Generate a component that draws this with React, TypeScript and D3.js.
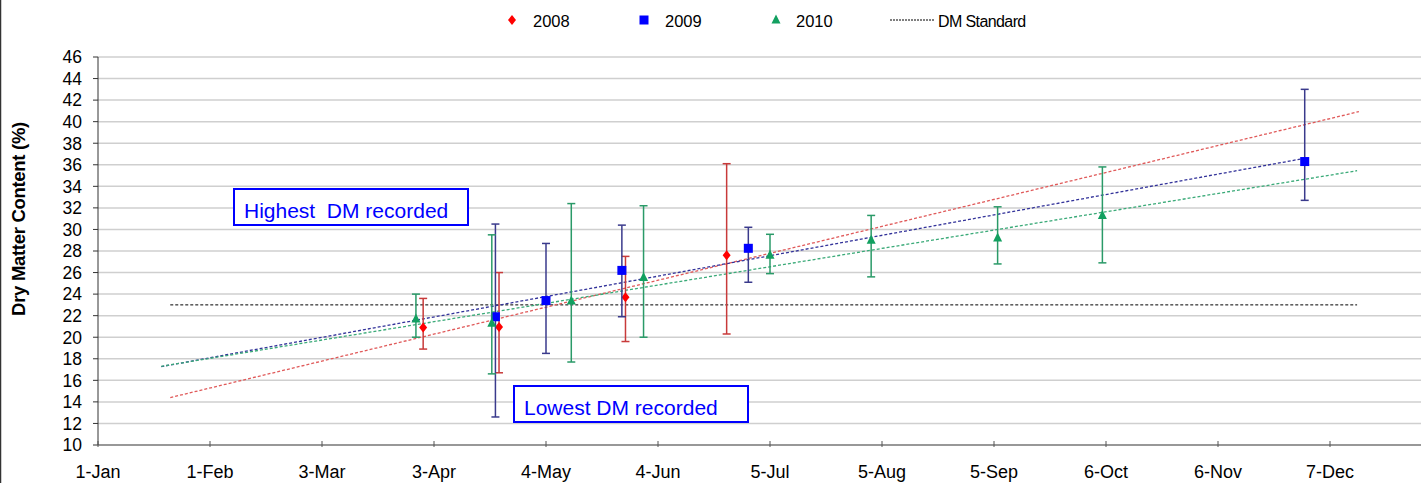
import React from "react";
import * as d3 from "d3";

// ---- data (day offsets from 1-Jan) ----
const tickLabels = ["1-Jan", "1-Feb", "3-Mar", "3-Apr", "4-May", "4-Jun", "5-Jul", "5-Aug", "5-Sep", "6-Oct", "6-Nov", "7-Dec"];
const yTicks = [10, 12, 14, 16, 18, 20, 22, 24, 26, 28, 30, 32, 34, 36, 38, 40, 42, 44, 46];

const days2008 = [90, 111, 146, 174];
const vals2008 = [20.9, 20.95, 23.7, 27.6];
const hi2008 = [23.6, 26.0, 27.5, 36.1];
const lo2008 = [18.9, 16.7, 19.6, 20.3];

const days2009 = [110, 124, 145, 180, 334];
const vals2009 = [21.9, 23.4, 26.2, 28.25, 36.3];
const hi2009 = [30.5, 28.7, 30.4, 30.2, 43.0];
const lo2009 = [12.6, 18.5, 21.9, 25.1, 32.7];

const days2010 = [88, 109, 131, 151, 186, 214, 249, 278];
const vals2010 = [21.7, 21.3, 23.35, 25.55, 27.6, 29.0, 29.2, 31.3];
const hi2010 = [24.0, 29.5, 32.4, 32.2, 29.55, 31.3, 32.1, 35.8];
const lo2010 = [20.0, 16.6, 17.7, 20.0, 25.9, 25.6, 26.8, 26.9];

// trendlines: [startDay, startValue, endDay, endValue]
const trend2008 = [20, 14.4, 349, 40.93];
const trend2009 = [17.5, 17.27, 334, 36.6];
const trend2010 = [17.5, 17.3, 348.5, 35.45];

const dmStandard = 23;
const dmStandardDays = [20, 348.5];

const W = 1421, H = 483;
const left = 98, top = 57, bottom = 445;
const x = d3.scaleLinear().domain([0, 372]).range([left, left + 372 * 112 / 31]);
const y = d3.scaleLinear().domain([10, 46]).range([bottom, top]);

const FONT = "Liberation Sans, Arial, sans-serif";

type Series = { name: string; days: number[]; vals: number[]; hi: number[]; lo: number[]; marker: string; fill: string; err: string; trend: number[]; trendColor: string };

const series: Series[] = [
  { name: "2008", days: days2008, vals: vals2008, hi: hi2008, lo: lo2008, marker: "diamond", fill: "#ff0000", err: "#c83a3a", trend: trend2008, trendColor: "#e05a5a" },
  { name: "2009", days: days2009, vals: vals2009, hi: hi2009, lo: lo2009, marker: "square", fill: "#0000ff", err: "#3a3a8c", trend: trend2009, trendColor: "#33339a" },
  { name: "2010", days: days2010, vals: vals2010, hi: hi2010, lo: lo2010, marker: "triangle", fill: "#12a060", err: "#2a9a68", trend: trend2010, trendColor: "#3aaa78" },
];

function Marker({ type, cx, cy, fill }: { type: string; cx: number; cy: number; fill: string }) {
  if (type === "diamond") {
    return <path d={`M${cx},${cy - 5}L${cx + 4},${cy}L${cx},${cy + 5}L${cx - 4},${cy}Z`} fill={fill} />;
  }
  if (type === "square") {
    return <rect x={cx - 4.5} y={cy - 4.5} width={9} height={9} fill={fill} />;
  }
  return <path d={`M${cx},${cy - 5.5}L${cx + 4.5},${cy + 3.5}L${cx - 4.5},${cy + 3.5}Z`} fill={fill} />;
}

export default function App() {
  return (
    <svg width={W} height={H} style={{ display: "block", position: "absolute", left: 0, top: 0, background: "#fff" }} fontFamily={FONT}>
      <rect x={0} y={0} width={W} height={H} fill="#fff" />
      <line x1={0.5} y1={0} x2={0.5} y2={H} stroke="#333" strokeWidth={1.5} />
      {/* gridlines */}
      {yTicks.filter((t) => t > 10).map((t) => (
        <line key={t} x1={left} x2={W} y1={y(t)} y2={y(t)} stroke="#cfcfcf" strokeWidth={1.5} />
      ))}
      {/* axes */}
      <line x1={left} x2={left} y1={top} y2={bottom} stroke="#333" strokeWidth={1} />
      <line x1={left} x2={W} y1={bottom} y2={bottom} stroke="#333" strokeWidth={1.2} />
      {yTicks.map((t) => (
        <g key={t}>
          <line x1={left - 5} x2={left} y1={y(t)} y2={y(t)} stroke="#333" />
          <text x={left - 16} y={y(t)} dy="0.36em" textAnchor="end" fontSize={17.5} fill="#000">{t}</text>
        </g>
      ))}
      {tickLabels.map((lab, i) => (
        <g key={lab}>
          <line x1={x(i * 31)} x2={x(i * 31)} y1={bottom - 4} y2={bottom + 2} stroke="#555" />
          <text x={x(i * 31)} y={478} textAnchor="middle" fontSize={18} fill="#000">{lab}</text>
        </g>
      ))}
      <text transform={`translate(25,${219}) rotate(-90)`} textAnchor="middle" fontSize={18.5} fontWeight="bold" fill="#000" letterSpacing={-0.3}>Dry Matter Content (%)</text>

      {/* DM standard */}
      <line x1={x(dmStandardDays[0])} x2={x(dmStandardDays[1])} y1={y(dmStandard)} y2={y(dmStandard)} stroke="#000" strokeWidth={1} strokeDasharray="3,2" />

      {/* trendlines */}
      {series.map((s) => (
        <line key={"t" + s.name} x1={x(s.trend[0])} y1={y(s.trend[1])} x2={x(s.trend[2])} y2={y(s.trend[3])} stroke={s.trendColor} strokeWidth={1.3} strokeDasharray="3,2" />
      ))}

      {/* error bars and markers */}
      {series.map((s) => (
        <g key={"s" + s.name}>
          {s.days.map((d, i) => (
            <g key={i}>
              <line x1={x(d)} x2={x(d)} y1={y(s.hi[i])} y2={y(s.lo[i])} stroke={s.err} strokeWidth={1.5} />
              <line x1={x(d) - 4} x2={x(d) + 4} y1={y(s.hi[i])} y2={y(s.hi[i])} stroke={s.err} strokeWidth={1.5} />
              <line x1={x(d) - 4} x2={x(d) + 4} y1={y(s.lo[i])} y2={y(s.lo[i])} stroke={s.err} strokeWidth={1.5} />
            </g>
          ))}
          {s.days.map((d, i) => (
            <Marker key={"m" + i} type={s.marker} cx={x(d)} cy={y(s.vals[i])} fill={s.fill} />
          ))}
        </g>
      ))}

      {/* text boxes */}
      <rect x={234} y={189} width={234} height={36} fill="#fff" stroke="#0000ff" strokeWidth={2} />
      <text x={244} y={217.5} fontSize={21} fill="#0000ff" style={{ whiteSpace: "pre" }} xmlSpace="preserve">Highest  DM recorded</text>
      <rect x={514} y={386} width={234} height={36} fill="#fff" stroke="#0000ff" strokeWidth={2} />
      <text x={524} y={415} fontSize={21} fill="#0000ff">Lowest DM recorded</text>

      {/* legend */}
      <Marker type="diamond" cx={512} cy={20} fill="#ff0000" />
      <text x={533} y={26.5} fontSize={16.5} fill="#000">2008</text>
      <Marker type="square" cx={644} cy={20} fill="#0000ff" />
      <text x={665} y={26.5} fontSize={16.5} fill="#000">2009</text>
      <Marker type="triangle" cx={776} cy={20} fill="#12a060" />
      <text x={796} y={26.5} fontSize={16.5} fill="#000">2010</text>
      <line x1={890} x2={935} y1={20} y2={20} stroke="#000" strokeWidth={1} strokeDasharray="2,1" />
      <text x={938} y={26.5} fontSize={16} fill="#000" letterSpacing={-0.6}>DM Standard</text>
    </svg>
  );
}
